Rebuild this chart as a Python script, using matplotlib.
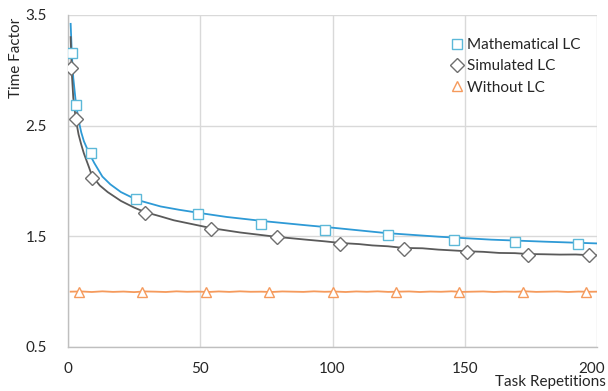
import matplotlib
matplotlib.use("Agg")
import matplotlib.pyplot as plt
from matplotlib.transforms import ScaledTranslation

plt.rcParams['font.family'] = ['Lato', 'DejaVu Sans']

# ---- data ----
math_line_x = [1, 1.5, 2, 3, 4, 5, 6, 8, 10, 13, 16, 20, 26, 35, 42, 50, 60, 75, 90,
               100, 120, 140, 160, 180, 200]
math_line_y = [3.42, 3.12, 2.93, 2.70, 2.55, 2.44, 2.36, 2.25, 2.16, 2.04, 1.97, 1.90,
               1.83, 1.77, 1.74, 1.71, 1.675, 1.635, 1.60, 1.578, 1.53, 1.497, 1.47,
               1.452, 1.436]

sim_line_x = [1, 1.5, 2, 3, 4, 5, 6, 8, 9, 12, 15, 20, 25, 29, 35, 40, 45, 54, 65, 79,
              90, 97, 103, 110, 115, 121, 127, 134, 140, 146, 151, 157, 163, 169, 174,
              180, 186, 192, 197, 200]
sim_line_y = [3.30, 2.95, 2.75, 2.55, 2.42, 2.33, 2.25, 2.12, 2.05, 1.96, 1.90, 1.82,
              1.76, 1.72, 1.68, 1.645, 1.62, 1.575, 1.535, 1.495, 1.47, 1.455, 1.44,
              1.43, 1.418, 1.41, 1.395, 1.392, 1.38, 1.372, 1.365, 1.36, 1.35, 1.348,
              1.34, 1.338, 1.335, 1.336, 1.33, 1.328]

wo_line_x = [1, 5, 9, 13, 17, 21, 25, 29, 33, 37, 41, 45, 49, 53, 57, 61, 65, 69, 73,
             77, 81, 85, 89, 93, 97, 101, 105, 109, 113, 117, 121, 125, 129, 133, 137,
             141, 145, 149, 153, 157, 161, 165, 169, 173, 177, 181, 185, 189, 193, 197,
             200]
wo_line_y = [1.0, 1.002, 0.997, 1.003, 0.998, 1.001, 0.996, 1.002, 1.0, 0.997, 1.003,
             0.999, 1.001, 0.997, 1.002, 0.998, 1.003, 0.999, 1.0, 0.997, 1.002, 1.0,
             0.998, 1.003, 0.999, 1.001, 0.997, 1.002, 0.999, 1.003, 0.998, 1.0, 1.002,
             0.997, 1.001, 0.999, 1.003, 0.998, 1.0, 1.002, 0.997, 1.001, 0.999, 1.003,
             0.998, 1.0, 1.002, 0.997, 1.001, 0.999, 1.0]

math_pts_x = [1.6, 3, 8.6, 25.7, 49, 73, 97, 121, 146, 169, 193]
math_pts_y = [3.16, 2.69, 2.25, 1.84, 1.70, 1.61, 1.56, 1.51, 1.47, 1.45, 1.435]

sim_pts_x = [1.2, 3, 9, 29, 54, 79, 103, 127, 151, 174, 197]
sim_pts_y = [3.02, 2.56, 2.03, 1.71, 1.565, 1.49, 1.435, 1.39, 1.36, 1.335, 1.335]

wo_pts_x = [4, 28, 52, 76, 100, 124, 148, 172, 196]
wo_pts_y = [1.0, 1.0, 1.0, 1.0, 1.0, 1.0, 1.0, 1.0, 1.0]

series_labels = ["Mathematical LC", "Simulated LC", "Without LC"]
x_ticks = [0, 50, 100, 150, 200]
y_ticks = [0.5, 1.5, 2.5, 3.5]

# ---- figure ----
W, H = 608, 391
fig = plt.figure(figsize=(W / 100, H / 100), dpi=100)
ax = fig.add_axes([68 / W, 1 - 347 / H, (597 - 68) / W, (347 - 15) / H])

blue = '#2E9AD6'
blue_m = '#5CB8D8'
gray = '#5A5A5A'
gray_m = '#6E6E6E'
orange = '#F59A5C'

ax.plot(math_line_x, math_line_y, color=blue, lw=1.3, zorder=3)
ax.plot(sim_line_x, sim_line_y, color=gray, lw=1.3, zorder=3)
ax.plot(wo_line_x, wo_line_y, color=orange, lw=1.3, zorder=3)

ax.plot(math_pts_x, math_pts_y, ls='none', marker='s', ms=7, mfc='white',
        mec=blue_m, mew=1.0, label=series_labels[0], zorder=4)
ax.plot(sim_pts_x, sim_pts_y, ls='none', marker='D', ms=7.5, mfc='white',
        mec=gray_m, mew=1.0, label=series_labels[1], zorder=4)
ax.plot(wo_pts_x, wo_pts_y, ls='none', marker='^', ms=7, mfc='white',
        mec=orange, mew=1.0, label=series_labels[2], zorder=4)

ax.set_xlim(0, 200)
ax.set_ylim(0.5, 3.5)
ax.set_xticks(x_ticks)
ax.set_yticks(y_ticks)
ax.set_xticklabels([str(v) for v in x_ticks])
ax.set_yticklabels([f"{v:.1f}" for v in y_ticks])
ax.tick_params(length=0, labelsize=11, labelcolor='#262626')
ax.tick_params(axis='y', pad=15)
ax.tick_params(axis='x', pad=11)

# keep the last x tick label inside the figure, as in the reference
last = ax.get_xticklabels()[-1]
last.set_transform(last.get_transform() + ScaledTranslation(-5 / 100, 0, fig.dpi_scale_trans))

ax.grid(True, color='#D9D9D9', lw=1.0, zorder=0)
ax.set_axisbelow(True)
for s in ['top', 'right']:
    ax.spines[s].set_visible(False)
for s in ['left', 'bottom']:
    ax.spines[s].set_color('#BFBFBF')
    ax.spines[s].set_linewidth(1.0)

fig.text(16 / W, 1 - 58 / H, "Time Factor", rotation=90, ha='center', va='center',
         fontsize=11, color='#262626')
fig.text(606 / W, 1 - 382 / H, "Task Repetitions", ha='right', va='center',
         fontsize=11, color='#262626')

leg = ax.legend(loc='upper left', bbox_to_anchor=(451 / W, 1 - 38 / H),
                bbox_transform=fig.transFigure, frameon=False, fontsize=11,
                handlelength=0.8, handletextpad=0.25, borderpad=0, borderaxespad=0,
                labelspacing=0.48)
for t in leg.get_texts():
    t.set_color('#262626')

fig.savefig("out.png", dpi=100)
